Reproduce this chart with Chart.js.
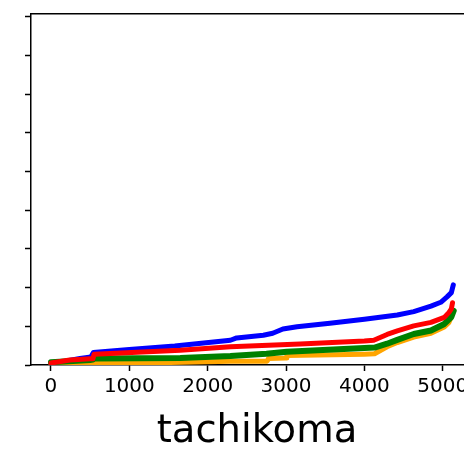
<!DOCTYPE html>
<html>
<head>
<meta charset="utf-8">
<script src="https://cdn.jsdelivr.net/npm/chart.js@4"></script>
<style>
  html, body { margin: 0; padding: 0; background: #fff; overflow: hidden; }
  #chart { display: block; }
</style>
</head>
<body>
<canvas id="chart" width="492" height="451"></canvas>
<script>
// values (y in tick units, ticks every 1, labels hidden)
const xTicks = [0, 1000, 2000, 3000, 4000, 5000];
const yTicks = [0, 1, 2, 3, 4, 5, 6, 7, 8, 9];

const blueX = [0, 180, 370, 510, 540, 1000, 1580, 2290, 2370, 2710, 2830, 2960, 3140, 3560, 4000, 4420, 4630, 4850, 4975, 5055, 5110, 5135];
const blueY = [0.05, 0.10, 0.17, 0.21, 0.32, 0.40, 0.49, 0.64, 0.70, 0.77, 0.82, 0.93, 0.99, 1.08, 1.18, 1.29, 1.38, 1.52, 1.62, 1.76, 1.87, 2.07];

const redX = [0, 240, 500, 535, 550, 1650, 2290, 3180, 4000, 4120, 4290, 4420, 4630, 4850, 5020, 5080, 5110, 5125];
const redY = [0.05, 0.13, 0.16, 0.16, 0.28, 0.38, 0.47, 0.54, 0.62, 0.64, 0.79, 0.88, 1.01, 1.10, 1.23, 1.36, 1.45, 1.61];

const greenX = [0, 500, 535, 550, 1650, 2290, 2750, 3010, 4000, 4130, 4290, 4420, 4630, 4850, 5020, 5110, 5140];
const greenY = [0.07, 0.13, 0.14, 0.17, 0.18, 0.23, 0.29, 0.34, 0.44, 0.45, 0.55, 0.65, 0.80, 0.89, 1.06, 1.24, 1.40];

const orangeX = [0, 1520, 2290, 2760, 2775, 3000, 3010, 4000, 4130, 4290, 4420, 4630, 4850, 5020, 5080, 5110, 5130];
const orangeY = [0.04, 0.065, 0.095, 0.10, 0.17, 0.18, 0.245, 0.28, 0.29, 0.47, 0.58, 0.72, 0.82, 0.98, 1.10, 1.25, 1.42];

const xMin = -255;
const xMax = 5514;
const yMin = 0;
const yMax = 9.08;

const pts = (xs, ys) => xs.map((x, i) => ({ x, y: ys[i] }));

const line = (data, color, width) => ({
  data,
  borderColor: color,
  backgroundColor: color,
  borderWidth: width,
  pointRadius: 0,
  tension: 0,
  borderJoinStyle: 'round',
  borderCapStyle: 'round',
  clip: 0,
});

// first dataset is drawn on top, so red goes first
new Chart(document.getElementById('chart'), {
  type: 'line',
  data: {
    datasets: [
      line(pts(redX, redY), 'red', 5),
      line(pts(greenX, greenY), 'green', 6),
      line(pts(orangeX, orangeY), 'orange', 5),
      line(pts(blueX, blueY), 'blue', 5),
    ],
  },
  options: {
    responsive: false,
    animation: false,
    events: [],
    // plot area runs past the right edge of the window, like the cropped original
    layout: { padding: { left: 25, right: 9, top: 13.5, bottom: 0 } },
    plugins: { legend: { display: false }, tooltip: { enabled: false } },
    scales: {
      x: {
        type: 'linear',
        position: 'bottom',
        min: xMin,
        max: xMax,
        afterBuildTicks: (s) => { s.ticks = xTicks.map((v) => ({ value: v })); },
        ticks: {
          color: '#000',
          font: { family: 'DejaVu Sans', size: 20 },
          padding: 4,
          maxRotation: 0,
          autoSkip: false,
          callback: (v) => String(v),
        },
        grid: {
          drawOnChartArea: false,
          drawTicks: true,
          tickLength: 6,
          tickColor: '#000',
          tickWidth: 1.5,
        },
        border: { display: true, color: '#000', width: 1.5 },
        title: {
          display: true,
          text: 'tachikoma',
          color: '#000',
          font: { family: 'DejaVu Sans', size: 38.5, lineHeight: 1 },
          padding: { top: 9.5, bottom: 0 },
        },
      },
      x2: {
        type: 'linear',
        position: 'top',
        min: xMin,
        max: xMax,
        ticks: { display: false },
        grid: { display: false, drawTicks: false },
        border: { display: true, color: '#000', width: 1.5 },
      },
      y: {
        type: 'linear',
        min: yMin,
        max: yMax,
        afterBuildTicks: (s) => { s.ticks = yTicks.map((v) => ({ value: v })); },
        ticks: { display: false },
        grid: {
          drawOnChartArea: false,
          drawTicks: true,
          tickLength: 6,
          tickColor: '#000',
          tickWidth: 1.5,
        },
        border: { display: true, color: '#000', width: 1.5 },
      },
    },
  },
});
</script>
</body>
</html>
